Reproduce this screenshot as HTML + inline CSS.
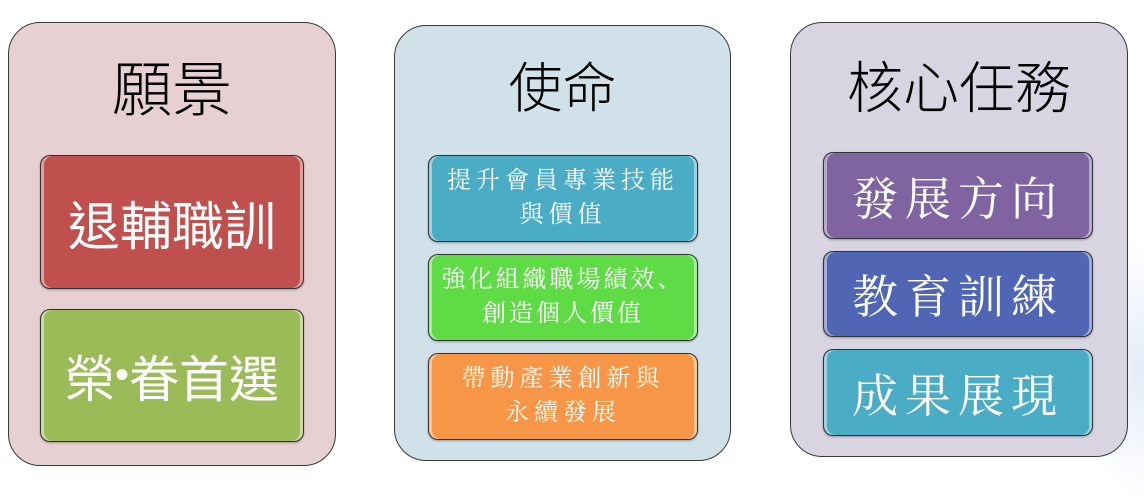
<!DOCTYPE html>
<html><head><meta charset="utf-8"><style>
body{margin:0;width:1144px;height:471px;background:#fff;position:relative;overflow:hidden;font-family:"Liberation Sans","Noto Sans CJK TC",sans-serif}
.p{position:absolute;border:1.5px solid #3a3a3a;border-radius:32px;box-sizing:border-box}
.t{position:absolute;left:0;right:0;text-align:center;color:#000;font-weight:300;line-height:1}
.b{position:absolute;border:1.5px solid #333;border-radius:10px;box-sizing:border-box;color:#fff;display:flex;align-items:center;justify-content:center;text-align:center;box-shadow:inset 3px 0 0 rgba(255,255,255,.45),inset -3px 0 0 rgba(255,255,255,.45),0 1px 2px rgba(0,0,0,.3)}
.s{font-family:"Liberation Serif","Noto Serif CJK SC",serif;letter-spacing:5px}
</style></head><body>
<div style="position:absolute;left:1080px;top:240px;width:120px;height:260px;border-radius:50%;background:radial-gradient(#e4ecf8,rgba(255,255,255,0) 70%)"></div>
<div class="p" style="left:8px;top:22px;width:328px;height:444px;background:#e6d0d2">
 <div class="t" style="top:38px;font-size:60px">願景</div>
</div>
<div class="b" style="left:40px;top:155px;width:264px;height:134px;background:#c0504d;font-size:52px">退輔職訓</div>
<div class="b" style="left:40px;top:309px;width:264px;height:133px;background:#9bbb59;font-size:50px">榮<span style="font-size:40px">•</span>眷首選</div>

<div class="p" style="left:394px;top:25px;width:337px;height:436px;background:#d0e1e9">
 <div class="t" style="top:36px;font-size:54px">使命</div>
</div>
<div class="b s" style="left:428px;top:155px;width:270px;height:87px;background:#4bacc6;font-size:24px;line-height:1.4">提升會員專業技能<br>與價值</div>
<div class="b s" style="left:428px;top:254px;width:270px;height:87px;background:#5fdc45;font-size:24px;line-height:1.4;letter-spacing:3px">強化組織職場績效、<br>創造個人價值</div>
<div class="b s" style="left:428px;top:353px;width:270px;height:87px;background:#f79646;font-size:24px;line-height:1.4">帶動產業創新與<br>永續發展</div>

<div class="p" style="left:790px;top:22px;width:338px;height:435px;background:#d8d4e1">
 <div class="t" style="top:38px;font-size:56px">核心任務</div>
</div>
<div class="b s" style="left:823px;top:152px;width:270px;height:87px;background:#8064a2;font-size:46px;letter-spacing:7px">發展方向</div>
<div class="b s" style="left:823px;top:251px;width:270px;height:86px;background:#5066b4;font-size:46px;letter-spacing:7px">教育訓練</div>
<div class="b s" style="left:823px;top:349px;width:270px;height:87px;background:#4bacc6;font-size:46px;letter-spacing:7px">成果展現</div>
</body></html>
